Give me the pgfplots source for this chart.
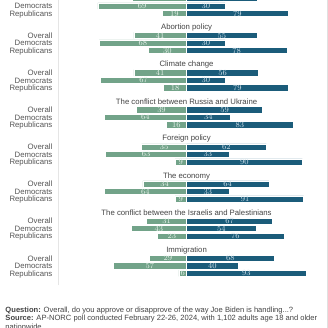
\documentclass[border=0pt]{standalone}
\usepackage{pgfplots}
\pgfplotsset{compat=1.18}
\usepackage{pgfplotstable}
\usepackage{fontspec}
\setmainfont{Liberation Sans}
\definecolor{gr}{HTML}{72A389}
\definecolor{bl}{HTML}{1B5C7A}
\definecolor{lblg}{HTML}{E6F1EA}
\definecolor{lblb}{HTML}{CFE0EA}
\definecolor{txt}{HTML}{555555}
\definecolor{ttl}{HTML}{444444}
\pgfplotstableread{
y a d
1.8 42 55
-6.0 69 30
-13.5 19 79
-35.6 41 55
-43.1 68 30
-50.6 30 78
-72.7 41 56
-80.2 67 30
-87.7 18 79
-109.8 39 59
-117.3 64 34
-124.8 16 83
-146.9 35 62
-154.4 63 33
-161.9 9 90
-184.0 34 64
-191.5 64 33
-199.0 9 91
-221.1 31 67
-228.6 43 54
-236.1 23 76
-258.2 29 68
-265.7 57 40
-273.2 6 93
}\data
\begin{document}
\begin{tikzpicture}
\path[use as bounding box] (0,0) rectangle (328bp,-328bp);
\clip (0,0) rectangle (328bp,-328bp);
\fill[white] (0,0) rectangle (328bp,-328bp);
\begin{axis}[
  anchor=north west, at={(58bp,6bp)},
  scale only axis, width=270bp, height=291bp,
  xmin=-100, xmax=110, ymin=-285, ymax=6,
  axis x line=none, axis y line*=left,
  y axis line style={-, draw=black!10, line width=0.8pt},
  major tick length=0pt,
  ytick={-273.2,-265.7,-258.2,-236.1,-228.6,-221.1,-199.0,-191.5,-184.0,-161.9,-154.4,-146.9,-124.8,-117.3,-109.8,-87.7,-80.2,-72.7,-50.6,-43.1,-35.6,-13.5,-6.0,1.8},
  yticklabels={Republicans,Democrats,Overall,Republicans,Democrats,Overall,Republicans,Democrats,Overall,Republicans,Democrats,Overall,Republicans,Democrats,Overall,Republicans,Democrats,Overall,Republicans,Democrats,Overall,Republicans,Democrats,Overall},
  yticklabel style={font=\fontsize{7.8}{8}\selectfont, text=txt, inner sep=0pt, anchor=base east, yshift=-2.8bp, xshift=-5.5bp},
  clip=true,
]
\addplot[xbar, bar width=6.2bp, bar shift=0pt, fill=gr, draw=white, line width=0.5pt] table[x expr=-\thisrow{a}, y=y] {\data};
\addplot[xbar, bar width=6.2bp, bar shift=0pt, fill=bl, draw=white, line width=0.5pt] table[x=d, y=y] {\data};
\addplot[draw=none, mark=none, nodes near coords, point meta=explicit,
  every node near coord/.append style={anchor=center, inner sep=0pt, font=\fontsize{7.6}{8}\selectfont, text=lblg}]
  table[x expr=-\thisrow{a}/2, y=y, meta=a] {\data};
\addplot[draw=none, mark=none, nodes near coords, point meta=explicit,
  every node near coord/.append style={anchor=center, inner sep=0pt, font=\fontsize{7.6}{8}\selectfont, text=lblb}]
  table[x expr=\thisrow{d}/2, y=y, meta=d] {\data};
\begin{scope}[every node/.style={font=\fontsize{7.8}{8}\selectfont, text=ttl, inner sep=0pt}]
\node at (axis cs:0,-27.6) {Abortion policy};
\node at (axis cs:0,-64.7) {Climate change};
\node at (axis cs:0,-101.8) {The conflict between Russia and Ukraine};
\node at (axis cs:0,-138.9) {Foreign policy};
\node at (axis cs:0,-176.0) {The economy};
\node at (axis cs:0,-213.1) {The conflict between the Israelis and Palestinians};
\node at (axis cs:0,-250.2) {Immigration};
\end{scope}
\end{axis}
\draw[black!12, line width=0.8pt] (327.6bp,0) -- (327.6bp,-328bp);
\begin{scope}[every node/.style={font=\fontsize{7.6}{8}\selectfont, text=ttl, inner sep=0pt, anchor=base west}]
\node at (5.3bp,-312bp) {\textbf{Question:} Overall, do you approve or disapprove of the way Joe Biden is handling...?};
\node at (5.3bp,-320.7bp) {\textbf{Source:} AP-NORC poll conducted February 22-26, 2024, with 1,102 adults age 18 and older};
\node at (5.3bp,-329.4bp) {nationwide.};
\end{scope}
\end{tikzpicture}
\end{document}
